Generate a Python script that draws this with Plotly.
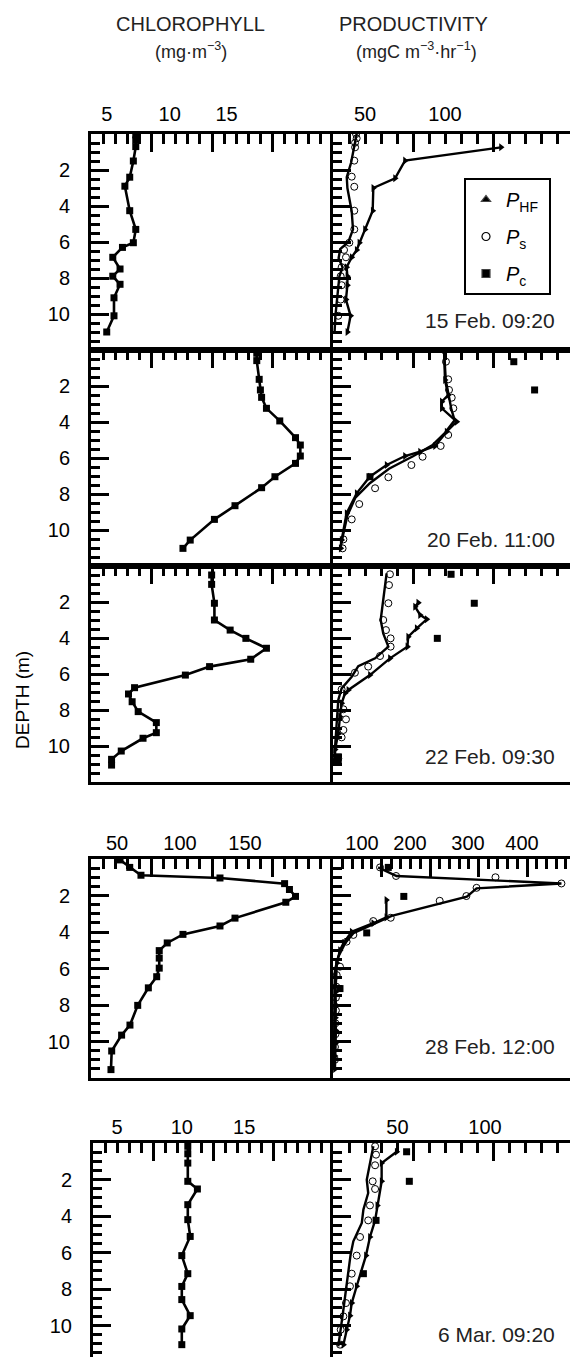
import plotly.graph_objects as go

W, H = 570, 1357

# ---------------- data ----------------
dates = ["15 Feb. 09:20", "20 Feb. 11:00", "22 Feb. 09:30", "28 Feb. 12:00", "6 Mar. 09:20"]

# Chlorophyll (mg m-3) vs depth (m)
chl1_d = [0.05, 0.33, 0.7, 1.5, 2.4, 2.9, 4.26, 5.3, 6.04, 6.3, 6.85, 7.5, 7.9, 8.35, 9.1, 10.1, 11.0]
chl1 = [3.7, 3.7, 3.7, 3.5, 3.2, 2.8, 3.2, 3.7, 3.5, 2.6, 1.8, 2.4, 1.8, 2.4, 1.9, 1.9, 1.3]
chl2_d = [0.18, 0.59, 1.63, 2.22, 2.63, 3.24, 3.94, 4.87, 5.28, 5.89, 6.3, 7.04, 7.65, 8.65, 9.41, 10.56, 11.02]
chl2 = [13.7, 13.7, 13.9, 14.0, 14.1, 14.5, 15.6, 16.9, 17.3, 17.3, 16.9, 15.2, 14.1, 11.9, 10.2, 8.2, 7.6]
chl3_d = [0.5, 1.02, 2.07, 3.0, 3.56, 4.02, 4.57, 5.18, 5.59, 6.06, 6.76, 7.11, 7.54, 8.09, 8.7, 9.26, 9.57, 10.28, 10.74, 11.06]
chl3 = [9.97, 9.97, 10.2, 10.2, 11.5, 12.8, 14.5, 13.2, 9.8, 7.8, 3.6, 3.1, 3.4, 3.9, 5.4, 5.4, 4.3, 2.5, 1.7, 1.7]
chl4_d = [0.05, 0.46, 0.89, 1.04, 1.35, 1.67, 2.05, 2.37, 3.24, 3.67, 4.13, 4.6, 5.02, 5.43, 5.98, 6.45, 7.06, 8.02, 9.1, 9.65, 10.52, 11.54]
chl4 = [24, 32, 41.3, 106.6, 160, 164, 169, 161, 119, 106.6, 76, 63, 56.4, 56.4, 56.4, 54.3, 47.4, 38.6, 32.2, 25.3, 17.1, 16.5]
chl5_d = [0.18, 0.59, 1.1, 2.1, 2.52, 3.38, 4.2, 5.12, 6.17, 7.16, 7.86, 8.58, 9.46, 10.19, 11.05]
chl5 = [7.9, 7.9, 7.9, 7.9, 8.7, 7.9, 7.9, 8.1, 7.4, 7.9, 7.4, 7.4, 8.1, 7.4, 7.4]

# Productivity (mgC m-3 hr-1) vs depth (m)
# P_HF: line with triangles
phf1_d = [0.74, 1.48, 2.46, 3.0, 4.26, 5.3, 6.04, 6.44, 6.85, 7.4, 7.9, 8.4, 9.2, 10.1, 11.0]
phf1 = [105, 45, 38.8, 25.2, 24.8, 20, 16.5, 14.8, 11.7, 8.5, 9, 9, 8.1, 11, 9]
phf2_d = [0.0, 1.67, 2.5, 2.87, 3.24, 3.98, 4.54, 5.33, 5.65, 5.89, 6.39, 7.04, 7.96, 9.07, 10.56, 11.02]
phf2 = [69.4, 70, 72, 68, 68, 77.3, 71, 63.8, 54.4, 45, 33.5, 23, 14.8, 8.5, 5.4, 4.8]
phf3_d = [2.04, 2.26, 2.72, 2.96, 3.46, 3.93, 4.48, 5.13, 6.06, 6.89, 7.07, 7.63, 8.37, 9.3, 10.2, 10.87]
phf3 = [53.3, 51.3, 54.4, 58.6, 52.3, 47, 46.5, 35.6, 23.1, 9.6, 7.5, 5.4, 4.4, 3.3, 1.3, 1.3]
phf4_d = [2.25, 3.2, 3.52, 3.99, 4.6, 5.0, 5.7, 6.5, 7.3, 8.0, 8.7, 9.4, 10.1, 10.8, 11.5]
phf4 = [110, 110, 83, 38.5, 22, 14.4, 8, 6, 5, 6, 5, 6, 5, 4, 4]
phf5_d = [0.48, 1.1, 2.1, 3.42, 4.24, 5.15, 6.17, 7.85, 8.77, 9.46, 10.23, 11.05]
phf5 = [39.8, 30.4, 30.4, 27.7, 26.3, 23.1, 20.6, 14.8, 11.7, 10.6, 8.5, 6.5]

# P_s: open circles
ps1_d = [0.0, 0.24, 0.48, 0.74, 1.48, 2.37, 2.93, 4.26, 5.3, 6.04, 6.44, 6.85, 7.4, 7.9, 8.4, 9.2, 10.1]
ps1 = [14.4, 14.8, 13.8, 13.8, 13.3, 11.7, 13.3, 13.3, 13.3, 10.2, 6.9, 8.1, 5.4, 4.8, 5.4, 4.8, 3.3]
ps2_d = [0.65, 1.63, 2.22, 2.65, 3.24, 4.72, 5.33, 5.93, 6.39, 7.07, 7.68, 8.56, 9.41, 10.52, 11.02]
ps2 = [70.6, 72, 72.5, 74.2, 75.2, 72, 67.3, 56, 49, 34.6, 26.3, 16.4, 11.7, 6.5, 6.0]
ps3_d = [0.46, 1.06, 2.07, 3.0, 3.56, 4.02, 4.48, 5.0, 5.59, 5.93, 6.85, 7.96, 8.52, 9.11, 9.52, 10.69]
ps3 = [35.6, 35, 34.6, 31.4, 33.1, 36, 36, 29.4, 22, 13.7, 5.4, 6.5, 8.1, 6.5, 5.4, 3.3]
ps4_d = [0.46, 0.93, 1.0, 1.34, 1.58, 2.03, 2.29, 3.22, 3.4, 4.16, 4.53, 5.9, 6.36, 7.0, 7.6, 8.3, 9.0, 9.6, 10.3, 11.0]
ps4 = [97, 130, 335, 471, 296, 275, 220, 119, 83, 42, 28, 14.4, 7.6, 7, 6, 6, 5, 5, 4, 4]
ps5_d = [0.18, 0.64, 1.22, 2.1, 2.52, 3.42, 4.24, 5.15, 6.17, 7.16, 7.85, 8.77, 9.5, 10.23, 11.05]
ps5 = [26.3, 26.9, 26.3, 24.8, 26.3, 23.1, 22, 16.9, 14.8, 11.7, 10.6, 8.1, 6.5, 4.8, 4.4]

# P_s profile lines
psl1_d = [0.0, 1.6, 2.4, 3.0, 4.3, 5.3, 6.0, 6.4, 6.9, 7.4, 7.9, 9.2, 10.1, 11.0]
psl1 = [14.8, 11.3, 8.6, 9.0, 11.7, 12.5, 9.6, 4.5, 3.5, 6.0, 4.0, 2.5, 1.5, 1.0]
psl2_d = [0.0, 1.7, 2.6, 3.3, 3.9, 4.6, 5.3, 5.9, 6.6, 7.4, 8.2, 9.2, 10.4, 11.0]
psl2 = [69.4, 70.5, 72.5, 74, 76, 70, 62, 50, 35, 23, 14, 9, 6, 4.5]
psl3_d = [0.41, 2.07, 3.0, 3.74, 4.48, 5.13, 5.56, 6.15, 6.8, 7.44, 8.74, 10.2, 10.96]
psl3 = [33.5, 31.4, 29.8, 31.4, 34.6, 26.3, 15.8, 11.7, 5.4, 3.3, 2.3, 1.3, 0.6]
psl4_d = [0.46, 0.93, 1.34, 1.61, 2.07, 3.12, 4.07, 4.62, 5.35, 6.08, 7.5, 9.0, 10.5, 11.5]
psl4 = [93, 131, 471, 296, 276, 121, 42, 25, 11, 4, 3, 3, 2, 2]
psl5_d = [0.18, 1.19, 2.01, 2.74, 3.65, 4.38, 5.39, 6.12, 6.94, 8.04, 9.13, 10.23, 11.14]
psl5 = [25.2, 23.1, 21.1, 22, 19, 18, 12.7, 11, 9.6, 8.1, 6.5, 4.8, 3.3]

# P_c: filled squares
pc1_d, pc1 = [], []
pc2_d = [0.65, 2.22, 7.04]
pc2 = [113, 126, 23.1]
pc3_d = [0.46, 2.07, 4.02, 10.6, 10.9]
pc3 = [73.8, 88.3, 65.2, 3.3, 3.3]
pc4_d = [0.46, 2.05, 4.05, 7.1]
pc4 = [114, 146, 69.5, 14.4]
pc5_d = [0.48, 2.1, 4.24, 7.16]
pc5 = [46, 47.7, 26.9, 19]

depth_ticks = [2, 4, 6, 8, 10]
depth_labels = ["2", "4", "6", "8", "10"]

# x tick labels as printed above the panels (row, column)
top_labels = {
    (1, 1): (["5", "10", "15"], [1.3, 6.5, 11.2]),
    (1, 2): (["50", "100"], [20, 70]),
    (4, 1): (["50", "100", "150"], [21.5, 73.6, 127.3]),
    (4, 2): (["100", "200", "300", "400"], [59.8, 158.8, 278.4, 389.7]),
    (5, 1): (["5", "10", "15"], [2.0, 7.4, 12.6]),
    (5, 2): (["50", "100"], [40.3, 95]),
}

chl = [(chl1_d, chl1), (chl2_d, chl2), (chl3_d, chl3), (chl4_d, chl4), (chl5_d, chl5)]
phf = [(phf1_d, phf1), (phf2_d, phf2), (phf3_d, phf3), (phf4_d, phf4), (phf5_d, phf5)]
ps = [(ps1_d, ps1), (ps2_d, ps2), (ps3_d, ps3), (ps4_d, ps4), (ps5_d, ps5)]
psl = [(psl1_d, psl1), (psl2_d, psl2), (psl3_d, psl3), (psl4_d, psl4), (psl5_d, psl5)]
pc = [(pc1_d, pc1), (pc2_d, pc2), (pc3_d, pc3), (pc4_d, pc4), (pc5_d, pc5)]

# ---------------- layout geometry ----------------
FONT = "Liberation Sans"
def py(p):
    return 1 - p / H

rows_px = [(134, 350), (350, 566), (566, 782), (859, 1078), (1143, 1362)]
left_px = [91, 91, 91, 91, 93]
mid_px = 333
chl_range = [[0, 20], [0, 20], [0, 20], [0, 200], [0, 20]]
chl_major = [[5, 10, 15]] * 3 + [[50, 100, 150], [5, 10, 15]]
chl_minor = [1, 1, 1, 10, 1]
prod_px_per = [1.6, 1.6, 1.6, 0.485, 1.6]
prod_major = [[50, 100]] * 3 + [[100, 200, 300, 400], [50, 100]]
prod_minor = [10, 10, 10, 20, 10]

fig = go.Figure()
layout = {}

def axis_common():
    return dict(showgrid=False, zeroline=False, showline=True, linecolor="black",
                linewidth=3, ticks="inside", tickcolor="black", tickwidth=3,
                ticklen=18, tickfont=dict(family=FONT, size=20, color="black"))

for r in range(5):
    top, bot = rows_px[r]
    ppm = (bot - top) / 12.0
    cut = bot > H
    bottom_depth = 12.0 if not cut else (H - top) / ppm
    ydom = [max(0.0, py(min(bot, H))), py(top)]
    for c in range(2):
        n = r * 2 + c + 1
        xa = "xaxis" if n == 1 else f"xaxis{n}"
        ya = "yaxis" if n == 1 else f"yaxis{n}"
        xs = "x" if n == 1 else f"x{n}"
        ys = "y" if n == 1 else f"y{n}"
        if c == 0:
            xdom = [left_px[r] / W, mid_px / W]
            xr = chl_range[r]
            major, minor = chl_major[r], chl_minor[r]
        else:
            xdom = [mid_px / W, 1.0]
            xr = [0, (W - mid_px) / prod_px_per[r]]
            major, minor = prod_major[r], prod_minor[r]
        xd = axis_common()
        xd.update(domain=xdom, range=xr, side="top", anchor=ys, mirror=(not cut),
                  tickmode="array", tickvals=major, showticklabels=False,
                  minor=dict(tickmode="linear", tick0=0, dtick=minor, ticks="inside",
                             ticklen=10, tickwidth=3, tickcolor="black"))
        yd = axis_common()
        yd.update(domain=ydom, range=[bottom_depth, 0], anchor=xs, side="left",
                  tickmode="array", tickvals=depth_ticks, ticktext=depth_labels,
                  showticklabels=(c == 0), ticklabelstandoff=14, mirror=False,
                  minor=dict(tickmode="linear", tick0=0, dtick=0.5, ticks="inside",
                             ticklen=9, tickwidth=3, tickcolor="black"))
        layout[xa] = xd
        layout[ya] = yd

        if (r + 1, c + 1) in top_labels:
            txt, vals = top_labels[(r + 1, c + 1)]
            ln = 20 + n
            layout[f"xaxis{ln}"] = dict(overlaying=xs, anchor=ys, side="top", range=xr,
                                        showgrid=False, zeroline=False, showline=False,
                                        ticks="", tickmode="array", tickvals=vals, ticktext=txt,
                                        ticklabelstandoff=8 if r == 0 else 4,
                                        tickfont=dict(family=FONT, size=20, color="black"))
            fig.add_trace(go.Scatter(x=[None], y=[None], xaxis=f"x{ln}", yaxis=ys,
                                     showlegend=False, hoverinfo="skip"))

        if c == 0:
            d, v = chl[r]
            fig.add_trace(go.Scatter(x=v, y=d, xaxis=xs, yaxis=ys, mode="lines+markers",
                                     line=dict(color="black", width=2.6),
                                     marker=dict(symbol="square", size=7, color="black"),
                                     showlegend=False, name="Chlorophyll"))
        else:
            d, v = psl[r]
            fig.add_trace(go.Scatter(x=v, y=d, xaxis=xs, yaxis=ys, mode="lines",
                                     line=dict(color="black", width=2.4),
                                     showlegend=False, name="P_s profile"))
            d, v = ps[r]
            fig.add_trace(go.Scatter(x=v, y=d, xaxis=xs, yaxis=ys, mode="markers",
                                     marker=dict(symbol="circle-open", size=7, color="black",
                                                 line=dict(width=1)),
                                     showlegend=False, name="P_s"))
            d, v = phf[r]
            fig.add_trace(go.Scatter(x=v, y=d, xaxis=xs, yaxis=ys, mode="lines+markers",
                                     line=dict(color="black", width=2.4),
                                     marker=dict(symbol="triangle-right", size=7, color="black"),
                                     showlegend=False, name="P_HF"))
            d, v = pc[r]
            fig.add_trace(go.Scatter(x=v, y=d, xaxis=xs, yaxis=ys, mode="markers",
                                     marker=dict(symbol="square", size=7, color="black"),
                                     showlegend=False, name="P_c"))

# legend entries
for sym, lab, g in [("triangle-up", "<i>P</i><sub>HF</sub> ", "a"),
                    ("circle-open", "<i>P</i><sub>s</sub> ", "b"),
                    ("square", "<i>P</i><sub>c</sub> ", "c")]:
    fig.add_trace(go.Scatter(x=[None], y=[None], xaxis="x2", yaxis="y2", mode="markers",
                             marker=dict(symbol=sym, size=8, color="black", line=dict(width=1.2)),
                             name=lab, legendgroup=g, showlegend=True))

annotations = []
for t, (px_x, px_y) in zip(dates, [(557, 321), (557, 539), (557, 756), (557, 1046), (557, 1334)]):
    annotations.append(dict(text=t, x=px_x / W, y=py(px_y), xref="paper", yref="paper",
                            xanchor="right", yanchor="middle", showarrow=False,
                            font=dict(family=FONT, size=21, color="#222")))
for t, (px_x, px_y), s in [("CHLOROPHYLL", (190, 24), 20), ("(mg·m<sup>−3</sup>)", (191, 51), 18),
                           ("PRODUCTIVITY", (413, 24), 20),
                           ("(mgC m<sup>−3</sup>·hr<sup>−1</sup>)", (416, 51), 18)]:
    annotations.append(dict(text=t, x=px_x / W, y=py(px_y), xref="paper", yref="paper",
                            xanchor="center", yanchor="middle", showarrow=False,
                            font=dict(family=FONT, size=s, color="#222")))
annotations.append(dict(text="DEPTH (m)", x=22 / W, y=py(700), xref="paper", yref="paper",
                        textangle=-90, xanchor="center", yanchor="middle", showarrow=False,
                        font=dict(family=FONT, size=19, color="black")))

fig.update_layout(
    width=W, height=H, margin=dict(l=0, r=0, t=0, b=0),
    paper_bgcolor="white", plot_bgcolor="white",
    showlegend=True,
    legend=dict(x=464 / W, y=py(178), xanchor="left", yanchor="top",
                bordercolor="black", borderwidth=2, bgcolor="white",
                tracegroupgap=8, itemwidth=30,
                font=dict(family=FONT, size=20, color="black")),
    annotations=annotations,
    **layout,
)

fig.write_html("out.html")
